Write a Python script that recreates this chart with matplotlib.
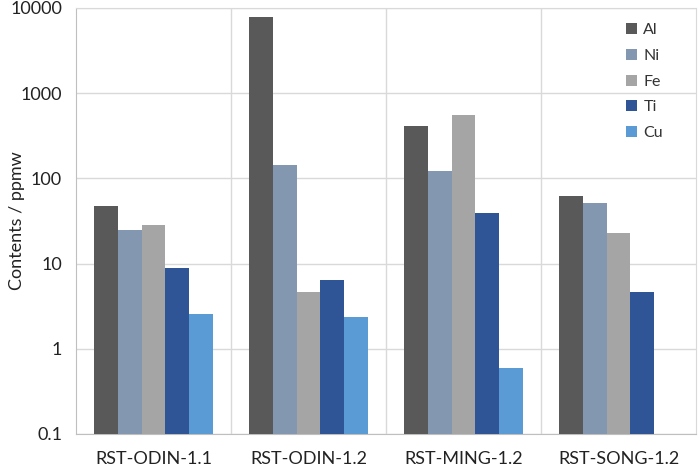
import numpy as np
import matplotlib
matplotlib.use("Agg")
from matplotlib import pyplot as plt

plt.rcParams['font.family'] = ['Lato', 'DejaVu Sans']

samples = ["RST-ODIN-1.1", "RST-ODIN-1.2", "RST-MING-1.2", "RST-SONG-1.2"]
elements = ["Al", "Ni", "Fe", "Ti", "Cu"]
al = [47, 7800, 415, 62]
ni = [25, 145, 123, 52]
fe = [28.5, 4.65, 560, 22.7]
ti = [8.9, 6.45, 39, 4.6]
cu = [2.56, 2.39, 0.59, np.nan]
colors = ["#595959", "#8497b0", "#a5a5a5", "#2f5597", "#5b9bd5"]

series = [al, ni, fe, ti, cu]

fig = plt.figure(figsize=(6.99, 4.68), dpi=100)
ax = fig.add_axes([76 / 699, 1 - 434 / 468, 620 / 699, 426 / 468])

x = np.arange(len(samples))
w = 0.154
for i, (vals, c, name) in enumerate(zip(series, colors, elements)):
    ax.bar(x + (i - 2) * w, vals, width=w, color=c, label=name, zorder=3)

ax.set_yscale('log')
ax.set_ylim(0.1, 10000)
ax.set_xlim(-0.5, len(samples) - 0.5)
ax.set_yticks([0.1, 1, 10, 100, 1000, 10000])
ax.set_yticklabels(["0.1", "1", "10", "100", "1000", "10000"])
ax.yaxis.set_minor_locator(matplotlib.ticker.NullLocator())
ax.set_xticks(x)
ax.set_xticklabels(samples)
ax.tick_params(length=0, labelsize=13, colors="#222222")
ax.tick_params(axis='x', pad=12)
ax.tick_params(axis='y', pad=10)

ax.grid(axis='y', color="#d9d9d9", linewidth=1, zorder=0)
for b in np.arange(0.5, len(samples) - 0.5, 1):
    ax.axvline(b, color="#d9d9d9", linewidth=1, zorder=0)
for s in ["top", "right"]:
    ax.spines[s].set_color("#d9d9d9")
for s in ["left", "bottom"]:
    ax.spines[s].set_color("#bfbfbf")

ax.set_ylabel("Contents / ppmw", fontsize=13, color="#222222")
ax.yaxis.set_label_coords(-0.082, 0.5)

leg = ax.legend(loc='upper right', bbox_to_anchor=(0.97, 0.998), frameon=False,
                fontsize=11.5, handlelength=0.7, handleheight=0.7,
                handletextpad=0.4, labelspacing=0.72)
for t in leg.get_texts():
    t.set_color("#333333")

fig.savefig("out.png", dpi=100)
